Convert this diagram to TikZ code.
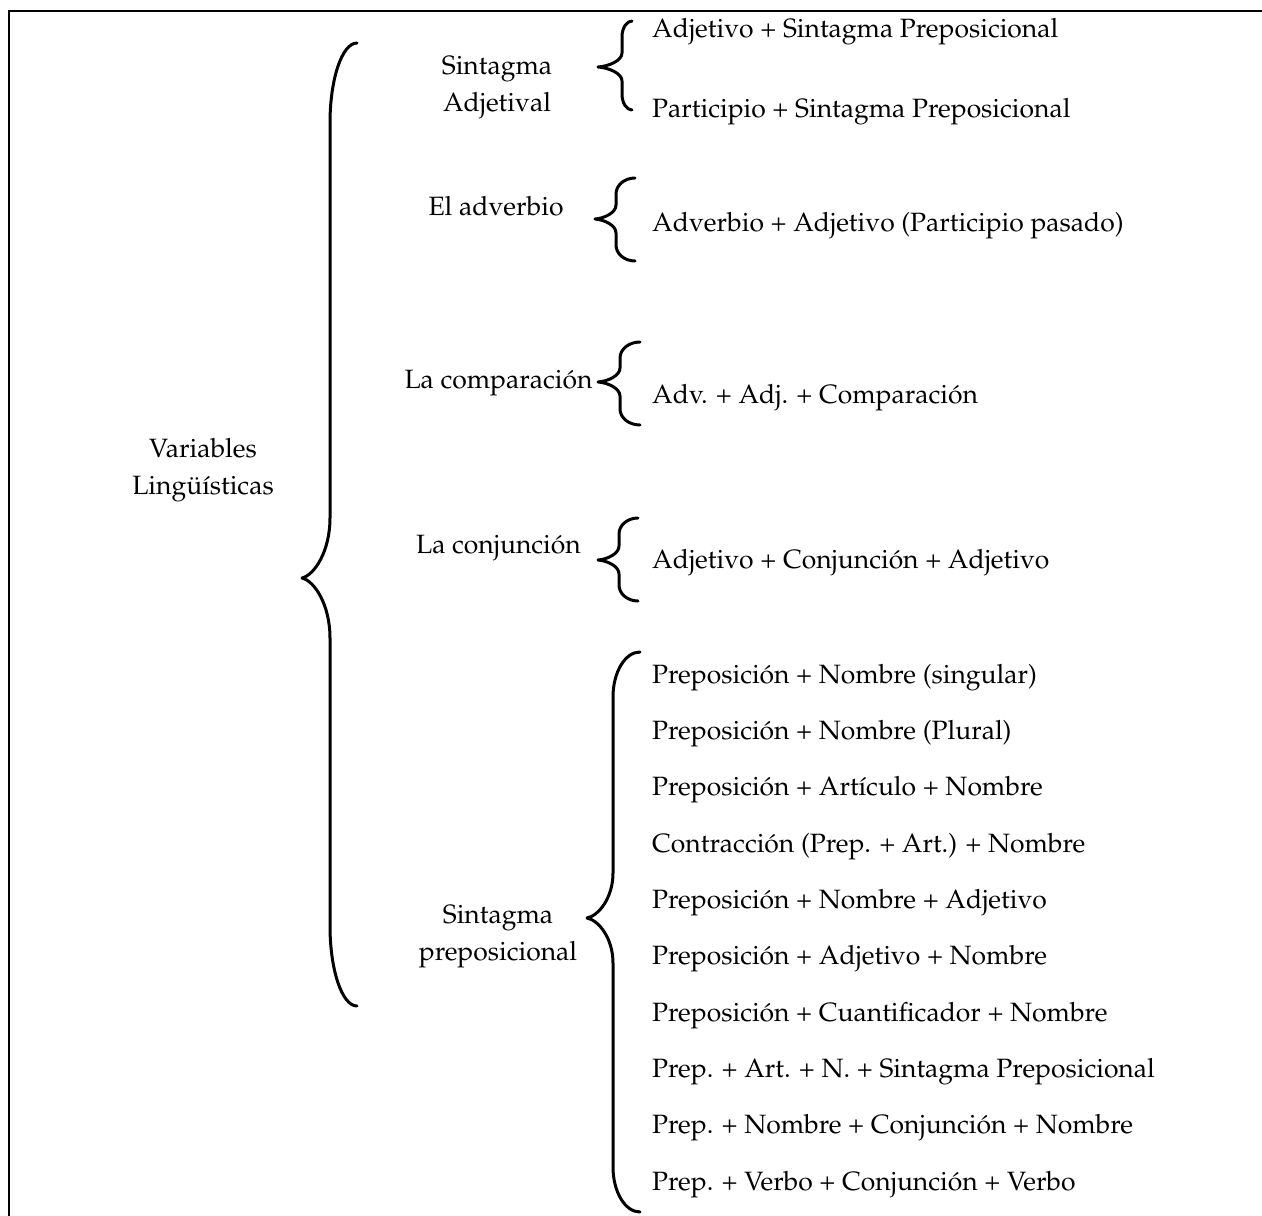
\documentclass[tikz,border=0pt]{standalone}
\usepackage[T1]{fontenc}
\renewcommand{\rmdefault}{ppl}
\newcommand{\mybrace}[8]{%
\draw[bracestyle] (#1,#4) .. controls ({#1-0.552*(#1-#2)},#4) and (#2,{#4+0.448*#7}) .. (#2,{#4+#7})
 -- (#2,{#5-#8}) .. controls (#2,{#5-0.45*#8}) and ({#3+0.45*(#2-#3)},{#5-0.05*#8}) .. (#3,#5)
 .. controls ({#3+0.45*(#2-#3)},{#5+0.05*#8}) and (#2,{#5+0.45*#8}) .. (#2,{#5+#8})
 -- (#2,{#6-#7}) .. controls (#2,{#6-0.448*#7}) and ({#1-0.552*(#1-#2)},#6) .. (#1,#6);}
\tikzset{
  bracestyle/.style={line width=3pt, line cap=round, line join=round},
  framestyle/.style={line width=2.4pt},
  txt/.style={inner sep=0pt, font=\fontsize{26.5}{37}\selectfont},
  itemtxt/.style={txt, anchor=base west},
  lbl/.style={txt, align=center}
}
\begin{document}
\begin{tikzpicture}[x=1pt,y=-1pt]
\clip (0,0) rectangle (1262,1216);
\draw[framestyle] (1280,11) -- (9,11) -- (9,1230);
% big brace
\mybrace{357}{330}{302}{43}{578}{1006}{80}{60}
\node[lbl] (vl) at (203,470) {Variables\\Ling\"u\'{\i}sticas};
% Sintagma Adjetival
\mybrace{632}{622}{598}{21}{67}{110}{16}{14}
\node[lbl] (sa) at (497,88) {Sintagma\\Adjetival};
\node[itemtxt] (sa1) at (652,37) {Adjetivo + Sintagma Preposicional};
\node[itemtxt] (sa2) at (652,117) {Participio + Sintagma Preposicional};
% El adverbio
\mybrace{635}{616}{595}{178}{219}{261}{16}{14}
\node[txt, anchor=base] (ad) at (496,215) {El adverbio};
\node[itemtxt] (ad1) at (652,231) {Adverbio + Adjetivo (Participio pasado)};
% La comparacion
\mybrace{640}{620}{598}{342}{382}{425}{16}{14}
\node[txt, anchor=base] (co) at (498.5,388) {La comparaci\'on};
\node[itemtxt] (co1) at (652,403) {Adv. + Adj. + Comparaci\'on};
% La conjuncion
\mybrace{638}{619}{598}{518}{560}{601}{16}{14}
\node[txt, anchor=base] (cj) at (498.5,553) {La conjunci\'on};
\node[itemtxt] (cj1) at (652,568) {Adjetivo + Conjunci\'on + Adjetivo};
% Sintagma preposicional
\mybrace{640}{613}{587}{652}{918}{1212}{45}{45}
\node[lbl] (sp) at (498,937) {Sintagma\\preposicional};
\node[itemtxt] (p1) at (652,683.3) {Preposici\'on + Nombre (singular)};
\node[itemtxt] (p2) at (652,739.6) {Preposici\'on + Nombre (Plural)};
\node[itemtxt] (p3) at (652,795.9) {Preposici\'on + Art\'{\i}culo + Nombre};
\node[itemtxt] (p4) at (652,852.2) {Contracci\'on (Prep. + Art.) + Nombre};
\node[itemtxt] (p5) at (652,908.5) {Preposici\'on + Nombre + Adjetivo};
\node[itemtxt] (p6) at (652,964.8) {Preposici\'on + Adjetivo + Nombre};
\node[itemtxt] (p7) at (652,1021.1) {Preposici\'on + Cuantificador + Nombre};
\node[itemtxt] (p8) at (652,1077.4) {Prep. + Art. + N. + Sintagma Preposicional};
\node[itemtxt] (p9) at (652,1133.7) {Prep. + Nombre + Conjunci\'on + Nombre};
\node[itemtxt] (p10) at (652,1190) {Prep. + Verbo + Conjunci\'on + Verbo};
\end{tikzpicture}
\end{document}
